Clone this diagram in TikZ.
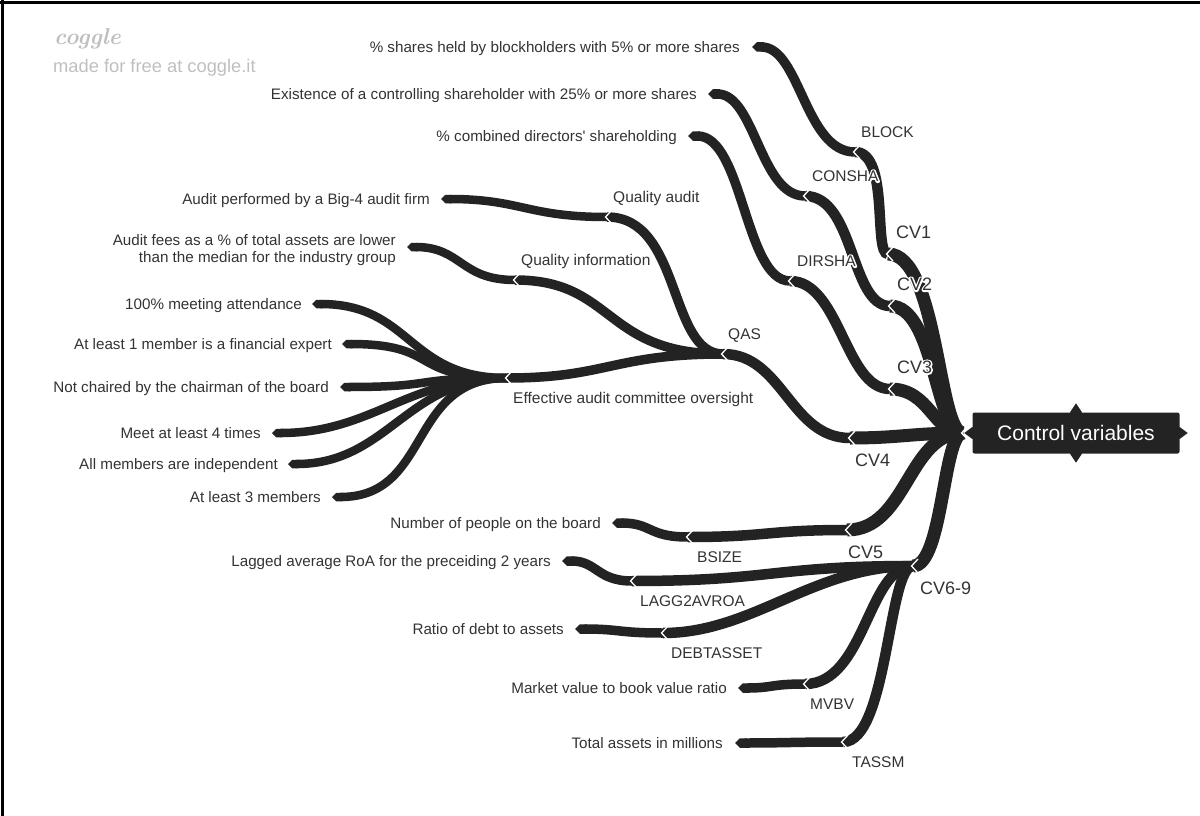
\documentclass[tikz,border=0pt]{standalone}
\usepackage{fontspec}
\newfontfamily\cogglefont{Liberation Sans}
\usetikzlibrary{arrows.meta}
\definecolor{branchcol}{HTML}{232323}
\definecolor{textcol}{HTML}{333333}
\definecolor{markcol}{HTML}{BFBFBF}
% white outline behind a label that crosses a branch
\newcommand{\halotext}[1]{\leavevmode\rlap{\special{pdf:code q 1 Tr 3 w 1 j}\textcolor{white}{#1}\special{pdf:code Q}}#1}
\tikzset{
	br1/.style={draw=branchcol, line width=13pt},
	br2/.style={draw=branchcol, line width=10.5pt},
	br3/.style={draw=branchcol, line width=9.5pt},
	br4/.style={draw=branchcol, line width=8.5pt},
	leafend/.style={-{Triangle Cap[]}},
	notch/.style={draw=white, line width=1.3pt},
	leaf/.style={text=textcol, font=\cogglefont\fontsize{15.2}{17}\selectfont, inner sep=0pt, anchor=base east},
	lab/.style={text=textcol, font=\cogglefont\fontsize{15.5}{18}\selectfont, inner sep=0pt, anchor=base west},
	cvlab/.style={lab, font=\cogglefont\fontsize{18}{21}\selectfont},
}
\begin{document}
\begin{tikzpicture}[x=1pt,y=-1pt]
	\useasboundingbox (0,0) rectangle (1200,816);
	\draw[line width=2.5pt] (0,2.5) -- (1200,2.5);
	\draw[line width=2.5pt] (2.5,0) -- (2.5,816);
	% watermark
	\node[anchor=base west, inner sep=0pt, text=markcol, font=\rmfamily\bfseries\itshape\fontsize{23}{25}\selectfont] (cogglemark) at (54,45) {coggle};
	\node[anchor=base west, inner sep=0pt, text=markcol, font=\cogglefont\fontsize{18.3}{20}\selectfont] (madefor) at (53,73) {made for free at coggle.it};
	% junctions
	\coordinate (hub) at (963,433);
	\coordinate (cv1) at (888,254);
	\coordinate (cv2) at (890,306);
	\coordinate (cv3) at (890,389);
	\coordinate (cv4) at (850,438);
	\coordinate (cv5) at (847,530);
	\coordinate (cv69) at (913,566);
	\coordinate (block) at (855,152);
	\coordinate (consha) at (805,196);
	\coordinate (dirsha) at (790,281);
	\coordinate (qas) at (723,354);
	\coordinate (bsize) at (688,537);
	\coordinate (lagg) at (632,581);
	\coordinate (debt) at (663,633);
	\coordinate (mvbv) at (805,684);
	\coordinate (tassm) at (843,742);
	\coordinate (qaudit) at (607,217);
	\coordinate (qinfo) at (515,280);
	\coordinate (eac) at (507,378);
	% leaf tips
	\coordinate (t-block) at (752,47);
	\coordinate (t-consha) at (708,94);
	\coordinate (t-dirsha) at (688,136);
	\coordinate (t-qaudit) at (441,199);
	\coordinate (t-qinfo) at (407,247);
	\coordinate (t-att) at (312,304);
	\coordinate (t-fin) at (342,344);
	\coordinate (t-chair) at (340,387);
	\coordinate (t-meet) at (272,433);
	\coordinate (t-indep) at (288,464);
	\coordinate (t-three) at (332,497);
	\coordinate (t-bsize) at (612,523);
	\coordinate (t-lagg) at (562,561);
	\coordinate (t-debt) at (575,629);
	\coordinate (t-mvbv) at (738,688);
	\coordinate (t-tassm) at (735,743);
	% root
	\node[fill=branchcol, text=white, rounded corners=2pt, minimum width=207pt, minimum height=41pt, inner sep=0pt, font=\cogglefont\fontsize{21}{24}\selectfont] (root) at (1076,433) {Control variables};
	\fill[branchcol] ([xshift=-6pt]root.north) -- ++(6,-9) -- ++(6,9) -- ++(-6,9) -- cycle;
	\fill[branchcol] ([xshift=-6pt]root.south) -- ++(6,9) -- ++(6,-9) -- ++(-6,-9) -- cycle;
	\fill[branchcol] ([yshift=-6pt]root.east) -- ++(8,-6) -- ++(-8,-6) -- ++(-8,6) -- cycle;
	\fill[branchcol] ([yshift=-6pt]root.west) -- ++(-8,-6) -- ++(8,-6) -- ++(8,6) -- cycle;
	% first level
	\draw[br1] (hub) .. controls +(-25,0) and +(50,0) .. (cv1);
	\draw[br1] (hub) .. controls +(-28,0) and +(45,0) .. (cv2);
	\draw[br1] (hub) .. controls +(-30,0) and +(40,0) .. (cv3);
	\draw[br1] (hub) .. controls +(-50,0) and +(50,0) .. (cv4);
	\draw[br1] (hub) .. controls +(-55,0) and +(60,0) .. (cv5);
	\draw[br1] (hub) .. controls +(-20,0) and +(30,0) .. (cv69);
	% second level
	\draw[br2] (cv1) .. controls +(-15,0) and +(35,0) .. (block);
	\draw[br2] (cv2) .. controls +(-40,0) and +(50,0) .. (consha);
	\draw[br2] (cv3) .. controls +(-45,0) and +(50,0) .. (dirsha);
	\draw[br2] (cv4) .. controls +(-60,0) and +(60,0) .. (qas);
	\draw[br2] (cv5) .. controls +(-80,0) and +(80,0) .. (bsize);
	\draw[br2] (cv69) .. controls +(-140,0) and +(140,0) .. (lagg);
	\draw[br2] (cv69) .. controls +(-100,0) and +(90,0) .. (debt);
	\draw[br2] (cv69) .. controls +(-45,0) and +(60,0) .. (mvbv);
	\draw[br2] (cv69) .. controls +(-25,0) and +(45,0) .. (tassm);
	% third level
	\draw[br3, leafend] (block) .. controls +(-50,0) and +(48,0) .. (t-block);
	\draw[br3, leafend] (consha) .. controls +(-45,0) and +(47,0) .. (t-consha);
	\draw[br3, leafend] (dirsha) .. controls +(-45,0) and +(55,0) .. (t-dirsha);
	\draw[br3] (qas) .. controls +(-55,0) and +(75,0) .. (qaudit);
	\draw[br3] (qas) .. controls +(-120,0) and +(100,0) .. (qinfo);
	\draw[br3] (qas) .. controls +(-110,0) and +(100,0) .. (eac);
	\draw[br3, leafend] (bsize) .. controls +(-40,0) and +(40,0) .. (t-bsize);
	\draw[br3, leafend] (lagg) .. controls +(-35,0) and +(35,0) .. (t-lagg);
	\draw[br3, leafend] (debt) .. controls +(-45,0) and +(45,0) .. (t-debt);
	\draw[br3, leafend] (mvbv) .. controls +(-35,0) and +(35,0) .. (t-mvbv);
	\draw[br3, leafend] (tassm) .. controls +(-50,0) and +(50,0) .. (t-tassm);
	% fourth level
	\draw[br4, leafend] (qaudit) .. controls +(-80,0) and +(80,0) .. (t-qaudit);
	\draw[br4, leafend] (qinfo) .. controls +(-55,0) and +(55,0) .. (t-qinfo);
	\draw[br4, leafend] (eac) .. controls +(-100,0) and +(100,0) .. (t-att);
	\draw[br4, leafend] (eac) .. controls +(-100,0) and +(100,0) .. (t-fin);
	\draw[br4, leafend] (eac) .. controls +(-100,0) and +(100,0) .. (t-chair);
	\draw[br4, leafend] (eac) .. controls +(-100,0) and +(100,0) .. (t-meet);
	\draw[br4, leafend] (eac) .. controls +(-100,0) and +(100,0) .. (t-indep);
	\draw[br4, leafend] (eac) .. controls +(-100,0) and +(100,0) .. (t-three);
	% notches
	\foreach \j in {hub,cv1,cv2,cv3,cv4,cv5,cv69,block,consha,dirsha,qas,bsize,lagg,debt,mvbv,tassm,qaudit,qinfo,eac}
		\draw[notch] ([shift={(5,-7)}]\j) -- ([shift={(-1.5,0)}]\j) -- ([shift={(5,7)}]\j);
	% branch labels
	\node[cvlab] (cv1lab) at ([shift={(8,-15.5)}]cv1) {CV1};
	\node[cvlab] (cv2lab) at ([shift={(7,-15.5)}]cv2) {\halotext{CV2}};
	\node[cvlab] (cv3lab) at ([shift={(7,-15.5)}]cv3) {\halotext{CV3}};
	\node[cvlab] (cv4lab) at ([shift={(5,28.5)}]cv4) {CV4};
	\node[cvlab] (cv5lab) at ([shift={(1,28.5)}]cv5) {CV5};
	\node[cvlab] (cv69lab) at ([shift={(7,28.5)}]cv69) {CV6-9};
	\node[lab] (blocklab) at ([shift={(6,-14.5)}]block) {BLOCK};
	\node[lab] (conshalab) at ([shift={(7,-14.5)}]consha) {\halotext{CONSHA}};
	\node[lab] (dirshalab) at ([shift={(7,-14.5)}]dirsha) {\halotext{DIRSHA}};
	\node[lab] (qaslab) at ([shift={(5,-14.5)}]qas) {QAS};
	\node[lab] (qauditlab) at ([shift={(6,-14.5)}]qaudit) {Quality audit};
	\node[lab] (qinfolab) at ([shift={(6,-14.5)}]qinfo) {Quality information};
	\node[lab] (eaclab) at ([shift={(6,25.5)}]eac) {Effective audit committee oversight};
	\node[lab] (bsizelab) at ([shift={(9,25.5)}]bsize) {BSIZE};
	\node[lab] (agglab) at ([shift={(8,25.5)}]lagg) {LAGG2AVROA};
	\node[lab] (debtlab) at ([shift={(8,25.5)}]debt) {DEBTASSET};
	\node[lab] (mvbvlab) at ([shift={(5,25.5)}]mvbv) {MVBV};
	\node[lab] (tassmlab) at ([shift={(9,25.5)}]tassm) {TASSM};
	% leaf texts
	\node[leaf] (blocktxt) at ([shift={(-12,5.5)}]t-block) {\% shares held by blockholders with 5\% or more shares};
	\node[leaf] (conshatxt) at ([shift={(-11,5.5)}]t-consha) {Existence of a controlling shareholder with 25\% or more shares};
	\node[leaf] (dirshatxt) at ([shift={(-11,5.5)}]t-dirsha) {\% combined directors' shareholding};
	\node[leaf] (qaudittxt) at ([shift={(-11,5.5)}]t-qaudit) {Audit performed by a Big-4 audit firm};
	\node[leaf, anchor=east, align=right] (qinfotxt) at ([shift={(-11,3)}]t-qinfo) {Audit fees as a \% of total assets are lower\\than the median for the industry group};
	\node[leaf] (atttxt) at ([shift={(-10,5.5)}]t-att) {100\% meeting attendance};
	\node[leaf] (fintxt) at ([shift={(-10,5.5)}]t-fin) {At least 1 member is a financial expert};
	\node[leaf] (chairtxt) at ([shift={(-11,5.5)}]t-chair) {Not chaired by the chairman of the board};
	\node[leaf] (meettxt) at ([shift={(-11,5.5)}]t-meet) {Meet at least 4 times};
	\node[leaf] (indeptxt) at ([shift={(-10,5.5)}]t-indep) {All members are independent};
	\node[leaf] (threetxt) at ([shift={(-11,5.5)}]t-three) {At least 3 members};
	\node[leaf] (bsizetxt) at ([shift={(-11,5.5)}]t-bsize) {Number of people on the board};
	\node[leaf] (laggtxt) at ([shift={(-11,5.5)}]t-lagg) {Lagged average RoA for the preceiding 2 years};
	\node[leaf] (debttxt) at ([shift={(-11,5.5)}]t-debt) {Ratio of debt to assets};
	\node[leaf] (mvbvtxt) at ([shift={(-11,5.5)}]t-mvbv) {Market value to book value ratio};
	\node[leaf] (tassmtxt) at ([shift={(-12,5.5)}]t-tassm) {Total assets in millions};
\end{tikzpicture}
\end{document}
